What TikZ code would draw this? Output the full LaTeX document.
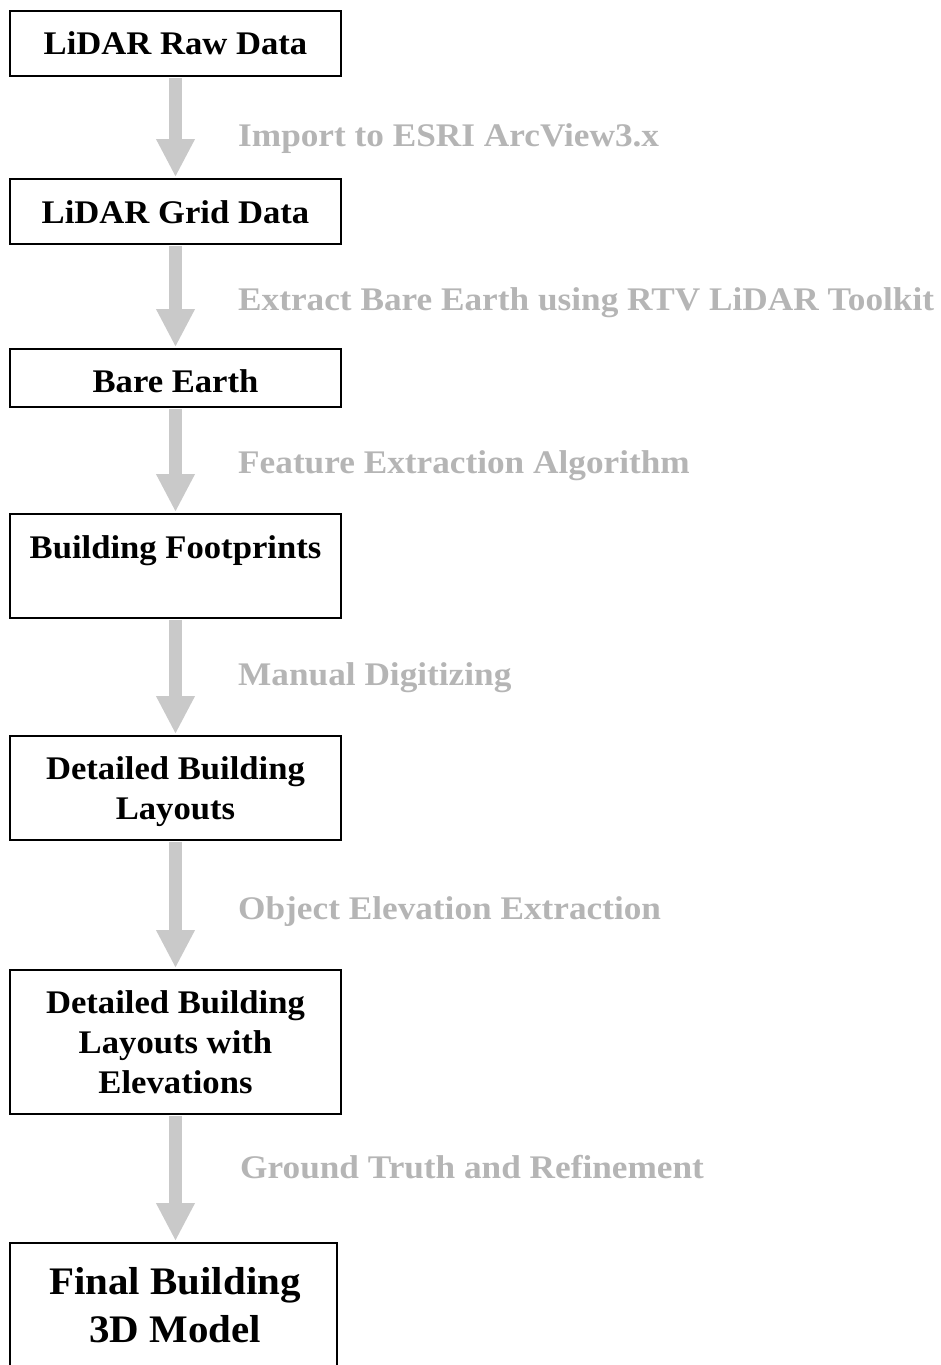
\documentclass[tikz,border=0pt]{standalone}
\usepackage{fontspec}
\setmainfont{Liberation Serif}[FakeStretch=1.05]
\newfontfamily\stepfont{Liberation Serif}[FakeStretch=1.068]
\usetikzlibrary{arrows.meta}
\definecolor{flowgray}{gray}{0.79}
\definecolor{stepgray}{gray}{0.71}
\tikzset{
  box/.style={draw=black, line width=1.8pt, minimum width=331pt, inner sep=0pt},
  boxtext/.style={font=\fontsize{33}{40}\selectfont\bfseries, align=center, inner sep=0pt, anchor=north},
  bigtext/.style={font=\fontsize{39}{48}\selectfont\bfseries, align=center, inner sep=0pt, anchor=north},
  steplabel/.style={font=\stepfont\fontsize{33}{40}\selectfont\bfseries, text=stepgray, inner sep=0pt, anchor=base west},
  flow/.style={draw=flowgray, line width=13pt, -{Triangle[width=36pt,length=38pt]}, shorten >=1pt, shorten <=1pt},
}
\begin{document}
\begin{tikzpicture}[x=1pt,y=-1pt]
\useasboundingbox (0,0) rectangle (941,1365);
\clip (0,0) rectangle (941,1365);

% process boxes
\node[box, minimum height=65pt]  (raw)   at (175.5,43.5) {};
\node[box, minimum height=65pt]  (grid)  at (175.5,211.5) {};
\node[box, minimum height=58pt]  (bare)  at (175.5,378) {};
\node[box, minimum height=104pt] (foot)  at (175.5,566) {};
\node[box, minimum height=104pt] (lay)   at (175.5,788) {};
\node[box, minimum height=144pt] (elev)  at (175.5,1042) {};
\node[box, minimum width=327pt, minimum height=140pt] (model) at (173.5,1313) {};

% box captions
\node[boxtext] (rawt)   at (175.5,31.5)  {LiDAR Raw Data};
\node[boxtext] (gridt)  at (175.5,200.5) {LiDAR Grid Data};
\node[boxtext] (baret)  at (175.5,369.5) {Bare Earth};
\node[boxtext] (foott)  at (175.5,535.5) {Building Footprints};
\node[boxtext] (layt)   at (175.5,756.5) {Detailed Building\\Layouts};
\node[boxtext] (elevt)  at (175.5,990.5) {Detailed Building\\Layouts with\\Elevations};
\node[bigtext] (modelt) at (175,1267.5)  {Final Building\\3D Model};

% flow arrows
\draw[flow] (raw.south)  -- (grid.north);
\draw[flow] (grid.south) -- (bare.north);
\draw[flow] (bare.south) -- (foot.north);
\draw[flow] (foot.south) -- (lay.north);
\draw[flow] (lay.south)  -- (elev.north);
\draw[flow] (elev.south) -- (elev.south |- model.north);

% processing steps
\node[steplabel] (s1) at (238,146)  {Import to ESRI ArcView3.x};
\node[steplabel] (s2) at (238,310)  {Extract Bare Earth using RTV LiDAR Toolkit};
\node[steplabel] (s3) at (238,473)  {Feature Extraction Algorithm};
\node[steplabel] (s4) at (238,685)  {Manual Digitizing};
\node[steplabel] (s5) at (238,919)  {Object Elevation Extraction};
\node[steplabel] (s6) at (240,1178) {Ground Truth and Refinement};
\end{tikzpicture}
\end{document}
